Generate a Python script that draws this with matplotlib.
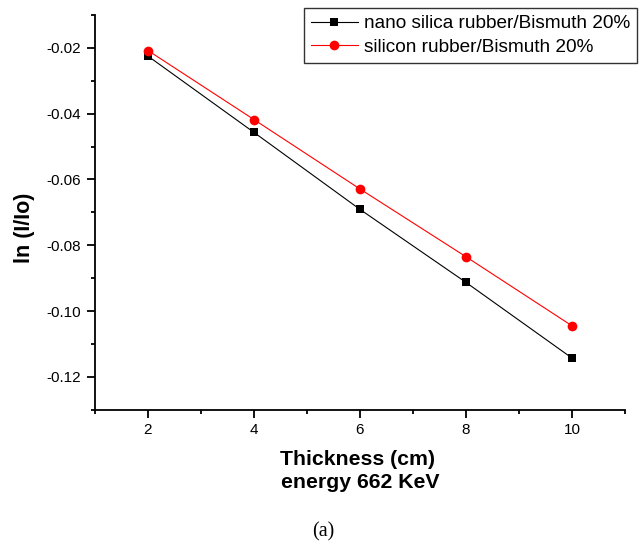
import matplotlib
matplotlib.use("Agg")
import matplotlib.pyplot as plt
from matplotlib.ticker import MultipleLocator, FormatStrFormatter

thickness = [2, 4, 6, 8, 10]
nano_silica = [-0.0225, -0.0457, -0.0691, -0.0913, -0.1143]
silicon = [-0.0208, -0.0418, -0.0629, -0.0835, -0.1045]
labels = ["nano silica rubber/Bismuth 20%", "silicon rubber/Bismuth 20%"]

plt.rcParams['font.family'] = ['Liberation Sans', 'DejaVu Sans']

W, H = 644, 544
fig = plt.figure(figsize=(W / 100, H / 100), dpi=100)
ax = fig.add_axes([95 / W, 1 - 409.7 / H, (625 - 95) / W, (409.7 - 15) / H])

ax.plot(thickness, nano_silica, color='black', lw=0.8, marker='s', ms=6.2,
        markeredgewidth=0, label=labels[0])
ax.plot(thickness, silicon, color='red', lw=0.8, marker='o', ms=7,
        markeredgewidth=0, label=labels[1])

ax.set_xlim(1, 11)
ax.set_ylim(-0.13, -0.01)
ax.xaxis.set_major_locator(MultipleLocator(2))
ax.xaxis.set_minor_locator(MultipleLocator(1))
ax.yaxis.set_major_locator(MultipleLocator(0.02))
ax.yaxis.set_minor_locator(MultipleLocator(0.01))
ax.yaxis.set_major_formatter(FormatStrFormatter('%.2f'))
ax.xaxis.set_major_formatter(FormatStrFormatter('%d'))

for s in ['top', 'right']:
    ax.spines[s].set_visible(False)
for s in ['left', 'bottom']:
    ax.spines[s].set_linewidth(1.3)

ax.tick_params(which='major', direction='out', length=5.8, width=1.3,
               labelsize=11, pad=4)
ax.tick_params(which='minor', direction='out', length=3, width=1.3)

leg = fig.legend(loc='upper right', bbox_to_anchor=(637 / W, 1 - 8 / H),
                 bbox_transform=fig.transFigure, fontsize=13.7,
                 frameon=True, fancybox=False, borderpad=0.36,
                 handlelength=2.47, handletextpad=0.32, labelspacing=0.35,
                 numpoints=1, borderaxespad=0)
leg.get_frame().set_edgecolor('black')
leg.get_frame().set_linewidth(1.0)

fig.text(357 / W, 1 - 465 / H, "Thickness (cm)", ha='center', va='baseline',
         fontsize=15.3, fontweight='bold')
fig.text(360 / W, 1 - 488 / H, "energy 662 KeV", ha='center', va='baseline',
         fontsize=15.3, fontweight='bold')
fig.text(25 / W, 1 - 227.5 / H, "ln (I/Io)", rotation=90, ha='center',
         va='center', fontsize=15.5, fontweight='bold')
fig.text(323 / W, 1 - 532 / H, "(a)", ha='center', va='center',
         fontsize=14.5, family=['Liberation Serif', 'DejaVu Serif'])

fig.savefig("out.png", dpi=100)
